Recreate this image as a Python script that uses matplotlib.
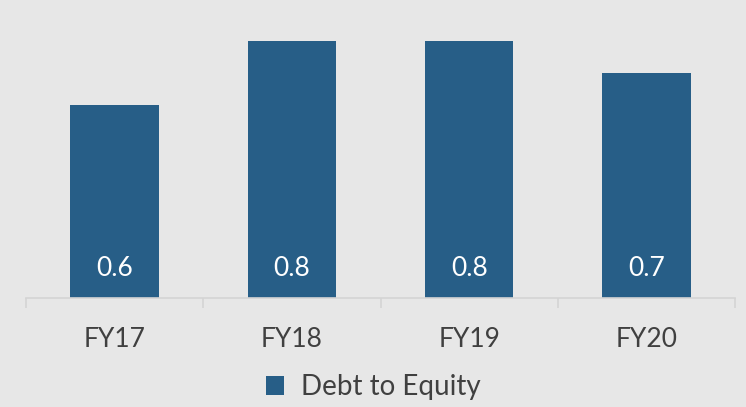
import matplotlib.pyplot as plt
import numpy as np

years = ['FY17', 'FY18', 'FY19', 'FY20']
debt_to_equity = [0.6, 0.8, 0.8, 0.7]

bg = '#e7e7e7'
bar_color = '#275e87'
text_color = '#404040'

plt.rcParams['font.family'] = ['Lato', 'DejaVu Sans']

fig = plt.figure(figsize=(7.46, 4.07), dpi=100, facecolor=bg)
ax = fig.add_axes([26 / 746, 1 - 298 / 407, 709 / 746, 289 / 407])
ax.set_facecolor(bg)

x = np.arange(len(years))
bars = ax.bar(x, debt_to_equity, width=0.5, color=bar_color, label='Debt to Equity')

# value labels near the bottom of each bar
for xi, v in zip(x, debt_to_equity):
    ax.annotate(f'{v:.1f}', xy=(xi, 0), xytext=(0, 21.5), textcoords='offset points',
                ha='center', va='center', color='white', fontsize=19)

ax.set_xlim(-0.5, len(years) - 0.5)
ax.set_ylim(0, 0.9)
ax.set_yticks([])
ax.set_xticks(x)
ax.set_xticklabels(years, fontsize=19, color=text_color)
ax.tick_params(axis='x', which='major', length=0, pad=21)
ax.set_xticks(np.arange(-0.5, len(years)), minor=True)
ax.tick_params(axis='x', which='minor', length=7, width=1.2, color='#d4d4d4')

for side in ['top', 'left', 'right']:
    ax.spines[side].set_visible(False)
ax.spines['bottom'].set_color('#d4d4d4')
ax.spines['bottom'].set_linewidth(1.2)

fig.legend(loc='center', bbox_to_anchor=(373 / 746, 1 - 387 / 407), frameon=False,
           fontsize=20, labelcolor=text_color, handlelength=0.65, handleheight=0.65,
           handletextpad=0.6)

fig.savefig('out.png', dpi=100, facecolor=bg)
